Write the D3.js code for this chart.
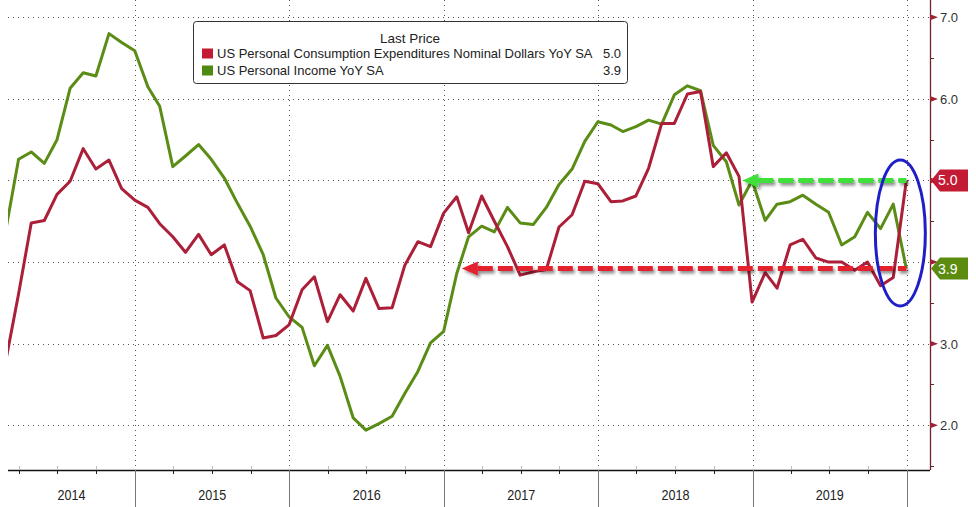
<!DOCTYPE html>
<html><head><meta charset="utf-8">
<script src="https://cdn.jsdelivr.net/npm/d3@7"></script>
<style>body{margin:0;background:#fff}svg{display:block}</style>
</head><body>
<svg id="c" width="976" height="507"></svg>
<script>
// Monthly observations, Feb 2014 .. Dec 2019 (plotted at month end)
const firstMonth = [2014, 1]; // year, zero-based month (Feb)
const pceYoY = [
  2.77, 3.61, 4.48, 4.51, 4.83, 4.99, 5.39, 5.14, 5.25, 4.90, 4.76,            // 2014 Feb-Dec
  4.67, 4.47, 4.31, 4.12, 4.34, 4.09, 4.21, 3.76, 3.65, 3.07, 3.10, 3.23,      // 2015
  3.66, 3.82, 3.27, 3.60, 3.40, 3.80, 3.43, 3.44, 3.96, 4.25, 4.19, 4.60,      // 2016
  4.80, 4.36, 4.81, 4.50, 4.19, 3.84, 3.88, 3.91, 4.43, 4.58, 4.99, 4.96,      // 2017
  4.74, 4.75, 4.81, 5.15, 5.70, 5.70, 6.06, 6.09, 5.17, 5.34, 5.05, 3.51,      // 2018
  3.87, 3.68, 4.21, 4.28, 4.05, 4.00, 4.00, 3.90, 4.00, 3.71, 3.81, 5.00       // 2019
];
const incomeYoY = [
  4.37, 5.26, 5.35, 5.21, 5.50, 6.13, 6.32, 6.28, 6.80, 6.69, 6.59,            // 2014 Feb-Dec
  6.15, 5.91, 5.17, 5.30, 5.44, 5.26, 5.03, 4.72, 4.44, 4.09, 3.56, 3.33,      // 2015
  3.20, 2.73, 2.98, 2.60, 2.09, 1.94, 2.02, 2.11, 2.39, 2.66, 3.01, 3.15,      // 2016
  3.86, 4.31, 4.44, 4.37, 4.67, 4.48, 4.46, 4.67, 4.95, 5.14, 5.48, 5.72,      // 2017
  5.68, 5.60, 5.66, 5.74, 5.69, 6.05, 6.16, 6.10, 5.43, 5.23, 4.70, 5.00,      // 2018
  4.51, 4.71, 4.74, 4.82, 4.71, 4.61, 4.21, 4.31, 4.61, 4.41, 4.71, 3.92       // 2019
];
const seriesNames = ["US Personal Consumption Expenditures Nominal Dollars YoY SA", "US Personal Income YoY SA"];
const lastLabels = ["5.0", "3.9"];
const yTicks = [2, 3, 4, 5, 6, 7];
const yMinorTicks = [1.5, 2.5, 3.5, 4.5, 5.5, 6.5];
const yearLabels = ["2014", "2015", "2016", "2017", "2018", "2019"];
const arrowStart = [new Date(2017, 1, 12), new Date(2018, 11, 8)]; // red, green arrow tips

const W = 976, H = 507;
const L = 8, R = 930, T = 0, B = 470;
const svg = d3.select("#c");
const x = d3.scaleTime().domain([new Date(2014, 2, 6), new Date(2020, 1, 25)]).range([L, R]);
const y = d3.scaleLinear().domain([1.452, 7.212]).range([B, T]);

const dates = pceYoY.map((_, i) => new Date(firstMonth[0], firstMonth[1] + i + 1, 0));
const pce = pceYoY.map((v, i) => ({date: dates[i], v}));
const inc = incomeYoY.map((v, i) => ({date: dates[i], v}));
const lastVals = [pceYoY[pceYoY.length - 1], incomeYoY[incomeYoY.length - 1]];

const defs = svg.append("defs");
defs.append("clipPath").attr("id", "plot").append("rect").attr("x", L).attr("y", T).attr("width", R - L).attr("height", B - T);
const f = defs.append("filter").attr("id", "sh").attr("x", "-10%").attr("y", "-50%").attr("width", "120%").attr("height", "200%");
f.append("feDropShadow").attr("dx", 2).attr("dy", 2.5).attr("stdDeviation", 1.5).attr("flood-color", "#000").attr("flood-opacity", 0.45);

// grid
const yearStarts = d3.timeYear.range(new Date(2015, 0, 1), new Date(2020, 0, 2));
svg.append("g").selectAll("line").data(yTicks).join("line")
  .attr("x1", L).attr("x2", R).attr("y1", d => Math.round(y(d)) + 0.5).attr("y2", d => Math.round(y(d)) + 0.5)
  .attr("stroke", "#555").attr("stroke-width", 1).attr("stroke-dasharray", "1,4");
svg.append("g").selectAll("line").data(yearStarts).join("line")
  .attr("x1", d => Math.round(x(d)) + 0.5).attr("x2", d => Math.round(x(d)) + 0.5).attr("y1", T).attr("y2", B)
  .attr("stroke", "#555").attr("stroke-width", 1).attr("stroke-dasharray", "1,4");

// bottom axis
const bx = svg.append("g");
bx.append("line").attr("x1", L).attr("x2", R).attr("y1", B + 0.5).attr("y2", B + 0.5).attr("stroke", "#111").attr("stroke-width", 1.3);
const quarters = d3.timeMonth.every(3).range(new Date(2014, 3, 1), new Date(2020, 0, 1)).filter(d => d.getMonth() !== 0);
bx.selectAll(".q").data(quarters).join("line").attr("class", "q")
  .attr("x1", d => Math.round(x(d)) + 0.5).attr("x2", d => Math.round(x(d)) + 0.5).attr("y1", B).attr("y2", B + 4)
  .attr("stroke", "#222");
bx.selectAll(".qu").data(quarters).join("line").attr("class", "qu")
  .attr("x1", d => Math.round(x(d)) + 0.5).attr("x2", d => Math.round(x(d)) + 0.5).attr("y1", B - 4).attr("y2", B)
  .attr("stroke", "#bbb");
bx.selectAll(".sep").data(yearStarts).join("line").attr("class", "sep")
  .attr("x1", d => Math.round(x(d)) + 0.5).attr("x2", d => Math.round(x(d)) + 0.5).attr("y1", B).attr("y2", H)
  .attr("stroke", "#777");
bx.selectAll("text").data(yearLabels).join("text")
  .attr("x", d => {
    const a = Math.max(L, x(new Date(+d, 0, 1))), b = Math.min(R, x(new Date(+d + 1, 0, 1)));
    return (a + b) / 2;
  })
  .attr("y", 500).attr("text-anchor", "middle")
  .attr("textLength", 28).attr("lengthAdjust", "spacingAndGlyphs")
  .style("font-family", "'Liberation Sans Narrow', 'Arial Narrow', 'Liberation Sans', sans-serif")
  .style("font-size", "15px").attr("fill", "#222").text(d => d);

// right axis
const ra = svg.append("g");
ra.append("line").attr("x1", R + 0.5).attr("x2", R + 0.5).attr("y1", 0).attr("y2", B).attr("stroke", "#6e2430").attr("stroke-width", 1.3);
ra.selectAll(".mn").data(yMinorTicks).join("line").attr("class", "mn")
  .attr("x1", R).attr("x2", R + 4).attr("y1", d => Math.round(y(d)) + 0.5).attr("y2", d => Math.round(y(d)) + 0.5)
  .attr("stroke", "#6e2430");
ra.selectAll("path").data(yTicks).join("path")
  .attr("d", d => `M${R},${y(d) - 3}L${R + 8},${y(d)}L${R},${y(d) + 3}Z`).attr("fill", "#9b2335");
// tick labels that sit under a last-value box are hidden by it, as in the reference
ra.selectAll("text").data(yTicks.filter(t => lastVals.every(v => Math.abs(y(t) - y(v)) > 16))).join("text")
  .attr("x", 940).attr("y", d => y(d) + 5)
  .style("font-family", "'Liberation Sans', Arial, sans-serif").style("font-size", "13px").attr("fill", "#333")
  .text(d => d.toFixed(1));

// lines
const line = d3.line().x(d => x(d.date)).y(d => y(d.v));
const lg = svg.append("g").attr("clip-path", "url(#plot)");
lg.append("path").datum(inc).attr("d", line).attr("fill", "none").attr("stroke", "#5b8c16").attr("stroke-width", 3).attr("stroke-linejoin", "round");
lg.append("path").datum(pce).attr("d", line).attr("fill", "none").attr("stroke", "#ab1f38").attr("stroke-width", 3).attr("stroke-linejoin", "round");

// arrows
const lastDate = dates[dates.length - 1];
const arrowDefs = [
  {start: arrowStart[0], v: lastVals[1], color: "#e3202f"},
  {start: arrowStart[1], v: lastVals[0], color: "#3fe03a"}
];
const ag = svg.append("g").attr("filter", "url(#sh)");
arrowDefs.forEach(a => {
  const x0 = x(a.start), yy = y(a.v), x1 = x(lastDate);
  ag.append("line").attr("x1", x0 + 16).attr("x2", x1).attr("y1", yy).attr("y2", yy)
    .attr("stroke", a.color).attr("stroke-width", 5).attr("stroke-dasharray", "15,5");
  ag.append("path").attr("d", `M${x0},${yy}L${x0 + 16},${yy - 7}L${x0 + 16},${yy + 7}Z`).attr("fill", a.color);
});

// ellipse
svg.append("ellipse").attr("cx", x(lastDate) - 6).attr("cy", 233).attr("rx", 25).attr("ry", 73)
  .attr("fill", "none").attr("stroke", "#1f1fc8").attr("stroke-width", 3);

// last value labels
const lbl = [
  {v: lastVals[0], t: lastLabels[0], fill: "#c41b35"},
  {v: lastVals[1], t: lastLabels[1], fill: "#5b8c10"}
];
lbl.forEach(d => {
  const yy = y(d.v);
  svg.append("path").attr("d", `M${R + 1},${yy}L${R + 10},${yy - 11}L968,${yy - 11}L968,${yy + 11}L${R + 10},${yy + 11}Z`).attr("fill", d.fill);
  svg.append("text").attr("x", 938).attr("y", yy + 5)
    .style("font-family", "'Liberation Sans', Arial, sans-serif").style("font-size", "14px").attr("fill", "#fff").text(d.t);
});

// legend
const lgd = svg.append("g");
lgd.append("rect").attr("x", 193.5).attr("y", 21.5).attr("width", 434).attr("height", 62).attr("rx", 3)
  .attr("fill", "#fff").attr("stroke", "#333");
lgd.append("text").attr("x", 410).attr("y", 43).attr("text-anchor", "middle")
  .style("font-family", "'Liberation Sans', Arial, sans-serif").style("font-size", "13.5px").attr("fill", "#222").text("Last Price");
const legColors = ["#c41b35", "#4e8a12"];
seriesNames.forEach((n, i) => {
  const by = 58 + i * 17;
  lgd.append("rect").attr("x", 202).attr("y", by - 9.5).attr("width", 11).attr("height", 10).attr("fill", legColors[i]);
  lgd.append("text").attr("x", 217).attr("y", by)
    .style("font-family", "'Liberation Sans', Arial, sans-serif").style("font-size", "13px").attr("fill", "#222").text(n);
  lgd.append("text").attr("x", 621).attr("y", by).attr("text-anchor", "end")
    .style("font-family", "'Liberation Sans', Arial, sans-serif").style("font-size", "13px").attr("fill", "#222").text(lastLabels[i]);
});
</script>
</body></html>
